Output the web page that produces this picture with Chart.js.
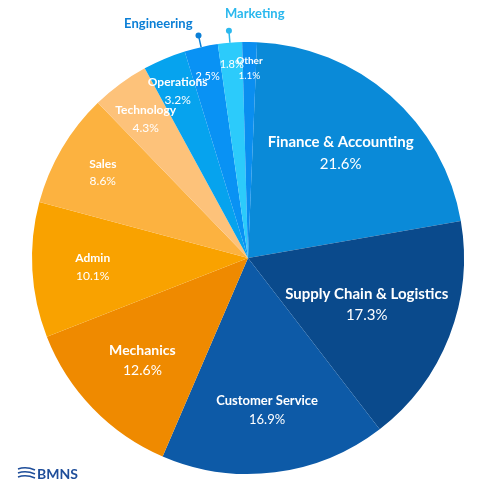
<!DOCTYPE html><html><head><script src="https://cdn.jsdelivr.net/npm/chart.js@4"></script>
<style>body{margin:0;background:#fff}#w{width:500px;height:500px;position:relative}</style></head><body><div id="w"><canvas id="c"></canvas></div>
<script>
const categories=["Finance & Accounting","Supply Chain & Logistics","Customer Service","Mechanics","Admin","Sales","Technology","Operations","Engineering","Marketing","Other"];
const values=[21.6,17.3,16.9,12.6,10.1,8.6,4.3,3.2,2.5,1.8,1.1];
const colors=["#0a8ad8","#0a4a8c","#0d5aa7","#ef8a00","#f9a200","#fcb240","#fdc27a","#06a3ee","#0992f4","#2ccbfb","#0a8ef0"];
const labelR=[0.65,0.59,0.71,0.68,0.72,0.78,0.80,0.84,0.86,0.9,0.88];
const fontSz=[15,15,13,14,12,12,12,12,11,11,10];
const outside={8:true,9:true};
const labels={id:'lbl',afterDraw(ch){const c=ch.ctx;const m=ch.getDatasetMeta(0);
m.data.forEach((a,i)=>{const ang=(a.startAngle+a.endAngle)/2;const cx=a.x,cy=a.y,R=a.outerRadius;
c.save();c.textAlign='center';c.textBaseline='middle';
const f=fontSz[i];
if(outside[i]){
 const px=cx+Math.cos(ang)*R*labelR[i],py=cy+Math.sin(ang)*R*labelR[i];
 c.fillStyle='#fff';c.font=`${f}px Lato`;c.fillText(values[i]+'%',px,py);
 const ex=cx+Math.cos(ang)*R,ey=cy+Math.sin(ang)*R,dx=cx+Math.cos(ang)*(R+12),dy=cy+Math.sin(ang)*(R+12);
 c.strokeStyle=i==9?'#2ab8ee':'#0b7fd6';c.fillStyle=c.strokeStyle;c.lineWidth=1.5;
 c.beginPath();c.moveTo(ex,ey);c.lineTo(dx,dy);c.stroke();c.beginPath();c.arc(dx,dy,3,0,7);c.fill();
 c.font='bold 13px Lato';
 if(i==8){c.textAlign='right';c.fillText(categories[i],dx-6,dy-12);}else{c.textAlign='left';c.fillText(categories[i],dx-4,dy-17);}
}else{
 const px=cx+Math.cos(ang)*R*labelR[i],py=cy+Math.sin(ang)*R*labelR[i];
 c.fillStyle='#fff';c.font=`bold ${f}px Lato`;c.fillText(categories[i],px,py-f*0.7);
 c.font=`${f}px Lato`;c.fillText(values[i]+'%',px,py+f*0.75);
}
c.restore();});
c.save();c.fillStyle='#1f4e9a';c.font='bold 14px Lato';c.textBaseline='middle';c.fillText('BMNS',37,474);
c.strokeStyle='#1f4e9a';c.lineWidth=1.5;for(let k=0;k<3;k++){c.beginPath();c.moveTo(18,469+k*4);c.quadraticCurveTo(26,466+k*4,35,470+k*4);c.stroke();}
c.restore();}};
new Chart(document.getElementById('c'),{type:'pie',data:{labels:categories,datasets:[{data:values,backgroundColor:colors,borderWidth:0}]},
options:{responsive:true,maintainAspectRatio:false,animation:false,rotation:2.4,layout:{padding:{left:32,right:36,top:42,bottom:26}},
plugins:{legend:{display:false},tooltip:{enabled:false}}},plugins:[labels]});
</script></body></html>
